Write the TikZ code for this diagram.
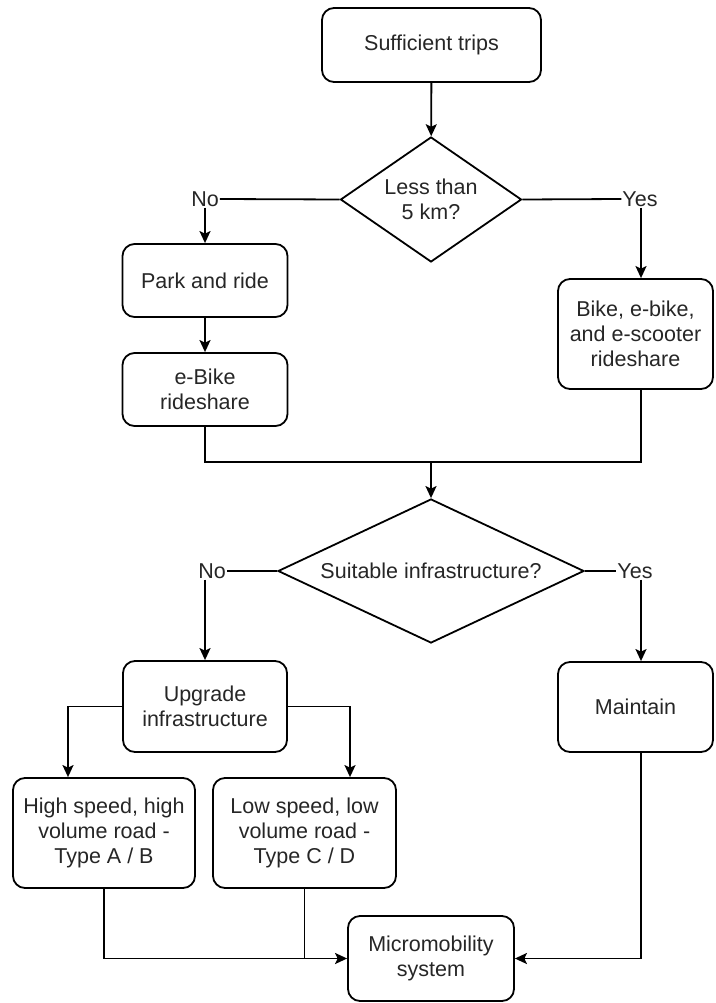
\documentclass[tikz,border=0pt]{standalone}
\usepackage{fontspec}
\setmainfont{Liberation Sans}
\usetikzlibrary{shapes.geometric,arrows.meta}
\begin{document}
\begin{tikzpicture}[x=1pt,y=-1pt,
  font=\fontsize{21.5}{25}\selectfont,
  box/.style={draw, rounded corners=12pt, line width=1.8pt, align=center, inner sep=0pt, text=black!85},
  dec/.style={draw, diamond, line width=1.8pt, align=center, inner sep=0pt, text=black!85},
  lbl/.style={inner sep=1pt, text=black!85},
  conn/.style={line width=1.8pt},
  arr/.style={conn, -{Stealth[length=12pt,width=11pt,inset=2.5pt]}}]
\useasboundingbox (0,0) rectangle (715,1003);
\node[box, minimum width=219pt, minimum height=74pt] (suff) at (431.5,45) {Sufficient trips};
\node[dec, minimum width=181pt, minimum height=125pt, aspect=1.45] (d1) at (431,199.5) {Less than\\5 km?};
\node[lbl] (no1) at (205,199) {No};
\node[lbl] (yes1) at (640,199) {Yes};
\node[box, minimum width=165pt, minimum height=73pt] (park) at (205,280.5) {Park and ride};
\node[box, minimum width=165pt, minimum height=73pt] (ebike) at (205,389.5) {e-Bike\\rideshare};
\node[box, minimum width=155pt, minimum height=110pt] (bike) at (635.5,334) {Bike, e-bike,\\and e-scooter\\rideshare};
\coordinate (m1) at (431,462);
\coordinate (rx) at (641,0);
\coordinate (hx) at (68,0);
\coordinate (lx) at (350,0);
\node[dec, minimum width=306pt, minimum height=144pt, aspect=2.1] (d2) at (431,571) {Suitable infrastructure?};
\node[lbl] (no2) at (212,571) {No};
\node[lbl] (yes2) at (635,571) {Yes};
\node[box, minimum width=164pt, minimum height=91pt] (up) at (205,706.5) {Upgrade\\infrastructure};
\node[box, minimum width=155pt, minimum height=90pt] (maint) at (635.5,707) {Maintain};
\node[box, minimum width=182pt, minimum height=110pt] (high) at (104,833) {High speed, high\\volume road -\\Type A / B};
\node[box, minimum width=183pt, minimum height=110pt] (low) at (304.5,833) {Low speed, low\\volume road -\\Type C / D};
\node[box, minimum width=166pt, minimum height=85pt] (micro) at (431,958.5) {Micromobility\\system};
% connectors
\draw[arr] (suff) -- (d1);
\draw[conn] (d1.west) -- (no1.east);
\draw[arr] (no1.south) -- (no1.south |- park.north);
\draw[conn] (d1.east) -- (yes1.west);
\draw[arr] (yes1.south -| rx) -- (rx |- bike.north);
\draw[arr] (park) -- (ebike);
\draw[conn] (ebike.south) |- (m1);
\draw[conn] (rx |- bike.south) |- (m1);
\draw[arr] (m1) -- (d2.north);
\draw[conn] (d2.west) -- (no2.east);
\draw[arr] (no2.south -| up.north) -- (up.north);
\draw[conn] (d2.east) -- (yes2.west);
\draw[arr] (yes2.south -| rx) -- (rx |- maint.north);
\draw[arr] (up.west) -| (hx |- high.north);
\draw[arr] (up.east) -| (lx |- low.north);
\draw[arr] (high.south) |- (micro.west);
\draw[conn] (low.south) -- (low.south |- micro.west);
\draw[arr] (rx |- maint.south) |- (micro.east);
\end{tikzpicture}
\end{document}
